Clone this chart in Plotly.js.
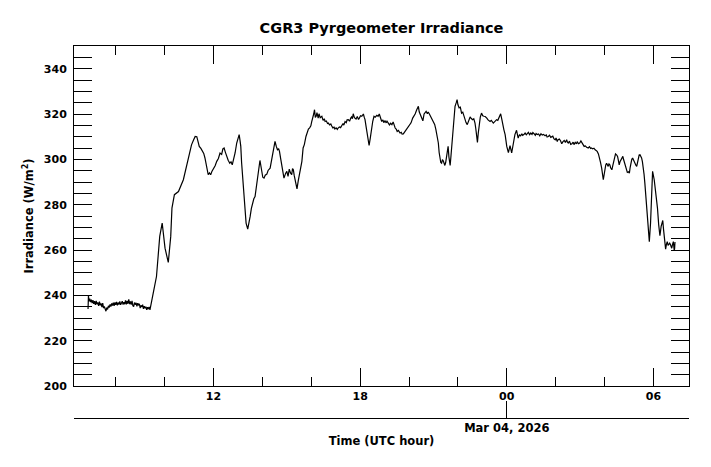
<!DOCTYPE html>
<html>
<head>
<meta charset="utf-8">
<script src="https://cdn.plot.ly/plotly-3.0.1.min.js"></script>
<style>html,body{margin:0;padding:0;background:#fff;}#chart{width:711px;height:467px;}</style>
</head>
<body>
<div id="chart"></div>
<script>
// Minutes since 2026-03-03 00:00 UTC
const minutes = [
412,413,414,416,418,420,422,424,426,428,430,432,434,436,438,440,442,444,446,448,450,452,454,456,458,460,462,464,466,468,470,472,474,476,478,480,482,484,486,488,490,492,494,496,498,500,502,504,506,508,510,512,514,516,518,520,522,524,526,528,530,532,534,536,538,540,542,544,546,548,550,552,554,556,558,560,562,564,
572,580,588,594,601,609,615,618,624,634,
646,652,658,666,671,675,679,682,685,689,693,696,699,703,707,710,713,716,720,724,728,732,736,740,743,746,749,752,756,760,763,766,770,773,777,780,783,785,787,789,792,796,800,804,807,810,813,816,819,822,825,828,831,834,837,841,844,847,851,854,859,862,865,868,871,874,877,880,882,885,887,890,893,897,900,903,906,909,912,914,916,918,921,925,928,931,934,937,940,943,947,950,953,956,959,961,964,966,968,970,972,974,977,979,982,986,989,992,994,997,
1000,1002,1005,1008,1010,1013,1016,1018,1021,1024,1026,1029,1032,1035,1038,1040,1043,1046,1048,1051,1054,1057,1059,1061,1063,1066,1070,1073,1076,1078,1081,1084,1088,1090,1092,1095,1098,1102,1105,1108,1111,1114,1117,1121,1124,1127,1130,1133,1136,1138,1141,1144,1146,1149,1152,1155,1158,1161,1164,1166,1169,1171,1174,1178,1181,1183,1186,1189,1193,1196,1198,
1202,1205,1209,1212,1215,1219,1223,1225,1229,1231,1234,1237,1239,1242,1245,1247,1250,1253,1256,1260,1263,1266,1269,1272,1274,1276,1278,1280,1282,1284,1286,1288,1290,1292,1294,1296,1298,1301,1303,1305,1307,1309,1311,1313,1316,1318,1320,1323,1326,1329,1332,1335,1337,1340,1343,1346,1350,1353,1356,1359,1362,1364,1366,1368,1370,1372,1375,1378,1381,1384,1387,1391,1394,1399,
1402,1407,1411,1415,1418,1421,1423,1425,1428,1430,1433,1436,1440,1444,1448,1452,1456,1460,1464,1468,1471,1474,1477,1479,1482,1485,1488,1490,1493,1496,1499,1502,1504,1507,1510,1512,1515,1518,1521,1524,1527,1530,1534,1537,1539,1542,1545,1548,1550,1553,1556,1559,1561,1564,1566,1569,1572,1575,1578,1581,1584,1587,1589,1591,1594,1597,
1600,1603,1605,1608,1611,1613,1616,1619,1622,1624,1627,1630,1633,1636,1640,1643,1646,1648,1651,1654,1657,1660,1662,1665,1667,1670,1673,1675,1677,1679,1681,1683,1685,1687,1689,1691,1693,1695,1698,1700,1702,1705,1707,1710,1712,1714,1716,1718,1720,1722,1725,1727,1730,1733,1736,1739,1741,1743,1745,1747,1749,1752,1755,1757,1759,1761,1763,1765,1767,1769,1771,1773,1775,1777,1779,1782,1785,1788,1790,1793,1796,1798,
1802,1806,1810,1813,1816,1819,1823,1825,1828,1830,1832,1834,1836,1838,1840,1842,1845,1847,1849,1851,1852,1853
];
// Downwelling longwave irradiance (W/m^2)
const irradiance = [
234.0,240.0,237.4,238.6,237.0,238.1,236.6,237.9,236.2,237.4,235.8,237.6,236.0,236.9,235.3,237.2,235.6,236.4,234.8,236.6,234.4,235.1,233.4,233.0,234.6,233.8,235.4,234.6,236.0,235.0,236.4,235.5,236.8,235.4,236.9,235.8,237.1,235.6,236.8,235.9,237.3,235.8,236.6,237.4,235.9,237.0,236.1,237.8,236.0,237.5,236.3,238.2,236.1,237.3,235.9,237.6,235.4,235.0,236.8,235.9,236.7,235.1,236.5,235.8,236.2,234.4,235.6,234.8,235.9,234.0,235.2,234.3,235.0,233.6,234.8,233.9,234.9,233.6,
241.0,248.3,266.0,271.9,260.8,254.5,266.0,278.5,284.4,285.8,
291.0,295.7,301.3,306.4,308.5,310.1,310.0,307.8,305.7,304.8,303.5,302.6,300.6,297.0,293.2,294.0,293.2,294.6,295.7,297.2,299.1,300.4,302.8,302.2,304.6,305.0,303.2,301.3,299.6,298.3,298.9,297.6,300.2,302.8,307.2,308.8,310.9,308.5,305.7,298.5,291.0,280.7,271.9,269.2,271.5,274.8,278.4,281.4,282.6,283.6,287.5,290.2,295.0,299.5,296.4,292.1,291.7,293.0,293.5,295.1,296.1,299.0,302.8,305.6,307.9,305.8,304.2,304.6,303.5,300.2,297.6,294.5,291.7,293.8,294.7,292.5,295.7,294.0,293.2,295.9,295.4,293.0,290.2,287.0,290.5,293.9,296.8,299.1,305.0,306.5,310.1,312.0,313.4,313.9,314.8,316.5,318.2,320.0,321.9,318.5,319.0,320.6,318.2,320.1,318.4,319.0,317.2,317.9,316.7,316.9,
315.8,316.0,315.2,315.6,314.8,313.9,314.2,313.4,313.9,313.2,313.8,314.3,314.0,315.3,315.8,315.1,316.7,316.2,317.4,317.5,316.8,318.2,318.7,317.9,320.1,318.4,317.8,318.9,317.6,318.2,319.2,319.0,320.0,318.6,317.5,314.0,310.9,306.1,309.5,313.8,316.8,319.0,318.6,319.4,319.0,320.0,318.4,316.7,317.4,316.2,317.0,316.1,316.8,316.0,315.2,315.9,315.3,316.5,314.8,313.8,313.2,312.3,312.8,311.6,311.9,311.1,311.2,312.0,313.1,313.8,314.5,
315.0,316.1,318.2,318.9,320.0,321.9,323.4,321.0,319.0,317.9,317.0,320.0,320.4,321.2,320.1,320.9,320.0,319.0,318.3,317.0,315.4,313.1,310.6,307.2,303.0,299.8,298.6,298.3,299.9,299.4,298.0,297.3,298.6,300.6,303.0,305.7,301.0,297.3,301.5,306.4,311.5,316.7,320.5,323.4,325.0,326.3,324.2,322.7,323.0,320.4,320.8,319.0,317.5,316.2,315.3,317.2,318.7,318.0,317.5,317.9,316.0,313.5,310.9,307.5,311.5,316.0,318.6,320.4,319.2,319.0,318.9,318.2,317.4,316.7,
317.2,316.0,316.8,317.5,317.2,318.2,319.0,320.1,317.5,315.3,313.0,310.9,305.7,303.0,306.0,302.8,307.9,310.9,312.8,309.4,310.8,310.4,311.3,310.6,310.9,311.6,310.8,311.3,311.9,310.9,311.6,311.0,311.8,311.3,310.6,311.4,310.9,311.2,310.4,311.3,310.7,311.0,310.4,310.8,309.9,310.1,310.6,309.7,309.8,310.2,309.0,308.6,309.4,307.9,308.7,309.0,308.2,306.9,307.8,308.3,307.4,308.7,307.6,307.2,308.0,306.6,
306.9,307.6,306.5,307.5,306.8,307.8,306.9,307.2,308.1,307.5,306.7,305.7,305.9,305.3,305.0,305.6,304.8,305.0,304.6,304.9,304.2,303.8,303.5,302.4,301.3,298.8,296.1,293.5,291.0,293.2,295.7,297.5,298.3,297.2,296.9,298.0,297.6,296.3,295.4,297.0,298.3,300.4,302.4,301.9,301.3,299.5,297.6,298.9,299.8,300.6,301.3,299.8,297.6,295.8,294.2,294.5,293.9,296.5,299.1,300.0,300.6,299.2,298.3,297.4,296.9,299.0,301.3,301.9,302.0,301.5,300.6,299.0,296.9,293.5,289.5,282.2,271.9,265.2,263.7,271.9,283.6,294.7,
291.0,285.8,278.5,271.1,266.3,270.4,273.0,268.9,263.0,260.4,262.5,263.7,262.0,262.3,263.0,262.3,260.8,262.5,263.7,260.0,260.4,263.5
];
const xTickFormat = '%H';
const dateLabel = ['Mar 04, 2026'];
const dateTickPos = ['2026-03-04 00:00'];

function toStamp(m) {
  const d = new Date(Date.UTC(2026, 2, 3, 0, m));
  return d.toISOString().slice(0, 19).replace('T', ' ');
}
const times = minutes.map(toStamp);

const F = {family: 'DejaVu Sans', weight: 'bold', color: '#000'};
const xr = ['2026-03-03 06:17:30', '2026-03-04 07:27:24'];

const traces = [
  {x: times, y: irradiance, type: 'scatter', mode: 'lines',
   line: {color: '#000', width: 1.2}, xaxis: 'x', yaxis: 'y', hoverinfo: 'x+y', showlegend: false},
  {x: [times[0], times[times.length - 1]], y: [null, null], type: 'scatter', mode: 'lines',
   xaxis: 'x2', yaxis: 'y', hoverinfo: 'skip', showlegend: false}
];

const layout = {
  width: 711, height: 467,
  margin: {l: 74, r: 22, t: 46, b: 49},
  paper_bgcolor: '#fff', plot_bgcolor: '#fff',
  showlegend: false,
  title: {text: 'CGR3 Pyrgeometer Irradiance', font: Object.assign({}, F, {size: 14.5}),
          x: 0.5, xref: 'paper', y: 1 - 28 / 467, yref: 'container', yanchor: 'middle'},
  xaxis: {
    type: 'date', range: xr, domain: [0, 1], anchor: 'y',
    tick0: '2026-03-03 00:00', dtick: 6 * 3600000, tickformat: xTickFormat,
    ticks: 'inside', ticklen: 18, tickwidth: 1, tickcolor: '#000',
    minor: {ticks: 'inside', ticklen: 9, tickwidth: 1, tickcolor: '#000', dtick: 2 * 3600000, tick0: '2026-03-03 00:00', showgrid: false},
    showline: true, linecolor: '#000', linewidth: 1, mirror: 'allticks',
    showgrid: false, zeroline: false,
    tickfont: Object.assign({}, F, {size: 11})
  },
  xaxis2: {
    type: 'date', range: xr, overlaying: 'x', anchor: 'free', position: 0,
    tickvals: dateTickPos, ticktext: dateLabel,
    ticks: 'inside', ticklen: 17, tickwidth: 1, tickcolor: '#000',
    showline: true, linecolor: '#000', linewidth: 1,
    showgrid: false, zeroline: false,
    tickfont: Object.assign({}, F, {size: 11.5}),
    ticklabelstandoff: -1,
    title: {text: 'Time (UTC hour)', font: Object.assign({}, F, {size: 11.5}), standoff: 3}
  },
  yaxis: {
    range: [200, 350], domain: [32 / 372, 1], anchor: 'x',
    tick0: 200, dtick: 20,
    ticks: 'inside', ticklen: 18, tickwidth: 1, tickcolor: '#000',
    minor: {ticks: 'inside', ticklen: 9, tickwidth: 1, tickcolor: '#000', dtick: 5, showgrid: false},
    showline: true, linecolor: '#000', linewidth: 1, mirror: 'allticks',
    showgrid: false, zeroline: false,
    ticklabelstandoff: 4,
    tickfont: Object.assign({}, F, {size: 11}),
    title: {text: 'Irradiance (W/m<sup>2</sup>)', font: Object.assign({}, F, {size: 11.5}), standoff: 7}
  }
};

Plotly.newPlot('chart', traces, layout, {displayModeBar: false, staticPlot: true});
</script>
</body>
</html>
